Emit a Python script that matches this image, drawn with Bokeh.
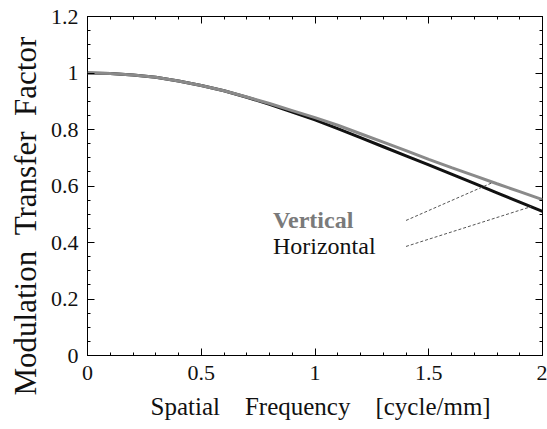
from bokeh.plotting import figure
from bokeh.models import Range1d, LinearAxis, Label, FixedTicker, ColumnDataSource, Title
from bokeh.embed import file_html
from bokeh.resources import INLINE

# ---- data ----
freq = [0.0, 0.1, 0.2, 0.3, 0.4, 0.5, 0.6, 0.7, 0.8, 0.9, 1.0,
        1.1, 1.2, 1.3, 1.4, 1.5, 1.6, 1.7, 1.8, 1.9, 2.0]
mtf_vertical = [1.000, 0.998, 0.993, 0.985, 0.972, 0.956, 0.937, 0.915, 0.892, 0.867, 0.842,
                0.815, 0.785, 0.755, 0.725, 0.694, 0.665, 0.637, 0.608, 0.580, 0.552]
mtf_horizontal = [1.000, 0.998, 0.993, 0.985, 0.972, 0.956, 0.937, 0.914, 0.889, 0.862, 0.834,
                  0.803, 0.771, 0.739, 0.707, 0.675, 0.642, 0.609, 0.576, 0.543, 0.510]
x_ticks = [0, 0.5, 1, 1.5, 2]
y_ticks = [0, 0.2, 0.4, 0.6, 0.8, 1.0, 1.2]
x_tick_labels = {0: "0", 0.5: "0.5", 1: "1", 1.5: "1.5", 2: "2"}
y_tick_labels = {0: "0", 0.2: "0.2", 0.4: "0.4", 0.6: "0.6", 0.8: "0.8", 1.0: "1", 1.2: "1.2"}
series_names = ["Vertical", "Horizontal"]
NB = "\u00a0"
x_title = "Spatial" + NB * 4 + "Frequency" + NB * 4 + "[cycle/mm]"
y_title = "Modulation" + NB * 2 + "Transfer" + NB * 2 + "Factor"

FONT = "Liberation Serif"
x_minor = [round(i * 0.1, 2) for i in range(21)]
y_minor = [round(i * 0.05, 2) for i in range(25)]

p = figure(width=547, height=429, output_backend="svg", toolbar_location=None,
           x_range=Range1d(0, 2), y_range=Range1d(0, 1.2),
           min_border_left=87, min_border_right=5, min_border_top=16, min_border_bottom=74,
           background_fill_color="white", border_fill_color="white")
p.grid.visible = False
p.outline_line_color = "black"
p.outline_line_width = 1

for ax, ticks, minor, labels in ((p.xaxis[0], x_ticks, x_minor, x_tick_labels),
                                 (p.yaxis[0], y_ticks, y_minor, y_tick_labels)):
    ax.ticker = FixedTicker(ticks=ticks, minor_ticks=minor)
    ax.major_label_overrides = labels
    ax.axis_line_color = None
    ax.major_tick_in = 7
    ax.major_tick_out = 0
    ax.minor_tick_in = 3
    ax.minor_tick_out = 0
    ax.major_tick_line_color = "black"
    ax.minor_tick_line_color = "black"
    ax.major_label_text_font = FONT
    ax.major_label_text_font_size = "22px"
    ax.major_label_text_color = "#111111"
p.xaxis[0].major_label_standoff = 10
p.yaxis[0].major_label_standoff = 9

# mirrored ticks on top and right
top_ax = LinearAxis(ticker=FixedTicker(ticks=x_ticks, minor_ticks=x_minor))
right_ax = LinearAxis(ticker=FixedTicker(ticks=y_ticks, minor_ticks=y_minor))
for ax in (top_ax, right_ax):
    ax.axis_line_color = None
    ax.major_tick_in = 7
    ax.major_tick_out = 0
    ax.minor_tick_in = 3
    ax.minor_tick_out = 0
    ax.major_label_text_font_size = "0px"
    ax.major_label_standoff = 0
    ax.major_label_text_alpha = 0
p.add_layout(top_ax, "above")
p.add_layout(right_ax, "right")

# axis titles
p.add_layout(Title(text=x_title, text_font=FONT, text_font_size="25px",
                   text_font_style="normal", text_color="#111111",
                   align="left", offset=63, standoff=16), "below")
p.add_layout(Title(text=y_title, text_font=FONT, text_font_size="31px",
                   text_font_style="normal", text_color="#111111",
                   align="left", offset=-40, standoff=10), "left")

# curves
p.line(freq, mtf_horizontal, line_color="#111111", line_width=3)
p.line(freq, mtf_vertical, line_color="#8a8a8a", line_width=3)

# leader lines from labels to curves
leaders = ColumnDataSource(dict(x0=[1.40, 1.40], y0=[0.478, 0.386],
                                x1=[1.78, 1.95], y1=[0.612, 0.527]))
p.segment(x0="x0", y0="y0", x1="x1", y1="y1", source=leaders,
          line_color="#555555", line_width=1, line_dash="3 2")

# series labels
p.add_layout(Label(x=0.815, y=0.478, text=series_names[0], text_font=FONT,
                   text_font_size="24px", text_color="#7a7a7a", text_font_style="bold",
                   text_align="left", text_baseline="middle"))
p.add_layout(Label(x=0.815, y=0.386, text=series_names[1], text_font=FONT,
                   text_font_size="24px", text_color="#111111",
                   text_align="left", text_baseline="middle"))

open("out.html", "w").write(file_html(p, INLINE))
